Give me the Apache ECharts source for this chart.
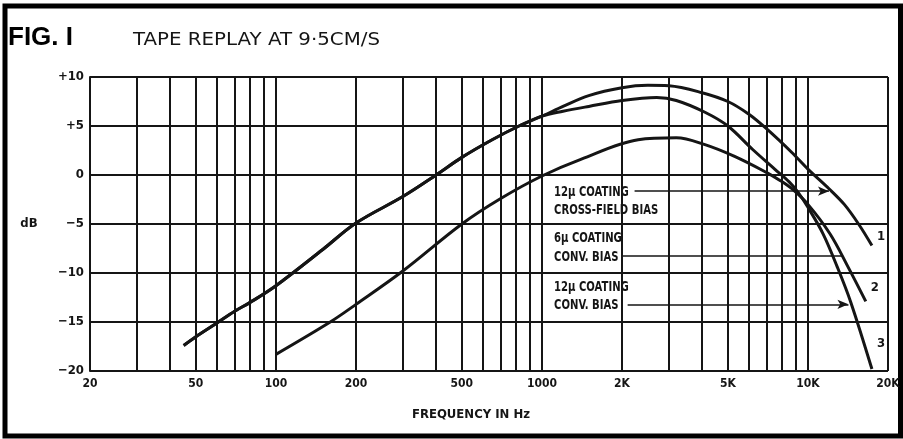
<!DOCTYPE html>
<html>
<head>
<meta charset="utf-8">
<script src="https://cdn.jsdelivr.net/npm/echarts@6/dist/echarts.min.js"></script>
<style>
html, body { margin: 0; padding: 0; background: #fff; }
#chart { width: 903px; height: 439px; }
</style>
</head>
<body>
<div id="chart"></div>
<script>
// log grid lines and tick labels of the frequency axis
var xGridValues = [20, 30, 40, 50, 60, 70, 80, 90, 100, 200, 300, 400, 500, 600, 700, 800, 900,
    1000, 2000, 3000, 4000, 5000, 6000, 7000, 8000, 9000, 10000, 20000];
var xLabelValues = [20, 50, 100, 200, 500, 1000, 2000, 5000, 10000, 20000];
var xLabelTexts = ['20', '50', '100', '200', '500', '1000', '2K', '5K', '10K', '20K'];

// [Hz, dB]
// curves 1 and 3 (both 12u coating) run together at low frequencies
var coating12Low = [[45, -17.4], [50, -16.5], [60, -15.1], [70, -13.9], [80, -13.0], [100, -11.3],
    [150, -7.6], [200, -4.9], [300, -2.2], [400, 0], [500, 1.8], [650, 3.6], [820, 5.0], [1000, 6.0]];
var crossField12High = [[1200, 7.0], [1500, 8.1], [2000, 8.9], [2500, 9.15], [3000, 9.1], [4000, 8.4],
    [5000, 7.5], [6000, 6.2], [7000, 4.7], [8700, 2.3], [10000, 0.6], [12000, -1.4], [13700, -3.0],
    [15500, -5.0], [17400, -7.2]];
var conv12High = [[1200, 6.5], [1500, 7.0], [2000, 7.6], [2700, 7.9], [3200, 7.6], [4100, 6.4],
    [5000, 5.0], [6200, 2.6], [7500, 0.6], [8500, -0.7], [9200, -1.8], [10000, -3.3], [11400, -6.0],
    [12900, -9.4], [14500, -13.0], [17400, -19.8]];
var conv6 = [[100, -18.3], [160, -15.0], [200, -13.2], [300, -9.8], [500, -5.0],
    [700, -2.4], [1000, -0.1], [1400, 1.6], [2300, 3.6], [3200, 3.8], [4100, 3.1], [5300, 1.9],
    [7000, 0.25], [7800, -0.5], [8700, -1.4], [10000, -3.0], [12100, -6.0], [14100, -9.3], [16500, -12.9]];

var curve1 = coating12Low.concat(crossField12High);
var curve2 = conv6;
var curve3 = coating12Low.concat(conv12High);

var ink = '#151515';
var narrow = '"DejaVu Sans Condensed", "DejaVu Sans", sans-serif';

var chart = echarts.init(document.getElementById('chart'));

function curveSeries(name, data, num, offset, pointer) {
    return {
        name: name,
        type: 'line',
        data: data,
        smooth: 0.35,
        showSymbol: false,
        lineStyle: { color: ink, width: 3 },
        endLabel: {
            show: true, formatter: num, offset: offset,
            color: ink, fontFamily: narrow, fontWeight: 'bold', fontSize: 13
        },
        markLine: {
            silent: true,
            symbol: pointer.arrow ? ['none', 'arrow'] : ['none', 'none'],
            symbolSize: [7, 11],
            label: { show: false },
            lineStyle: { color: ink, width: 1.5, type: 'solid' },
            data: [[{ coord: [pointer.from, pointer.db] }, { coord: [pointer.to, pointer.db] }]]
        }
    };
}

// condensed note text, squeezed a little to match the lettering
function note(text, x, y) {
    return {
        type: 'text', x: x, y: y, scaleX: 0.8,
        style: { text: text, fill: ink, font: 'bold 14px ' + narrow, verticalAlign: 'middle' }
    };
}

var option = {
    animation: false,
    grid: { left: 90, right: 15, top: 77, bottom: 68 },
    xAxis: {
        type: 'log',
        logBase: 10,
        min: 20,
        max: 20000,
        axisLine: { show: true, lineStyle: { color: ink, width: 2 } },
        axisTick: { show: false, customValues: xGridValues },
        splitLine: { show: true, lineStyle: { color: ink, width: 2 } },
        axisLabel: {
            customValues: xLabelValues,
            margin: 7,
            color: ink,
            fontFamily: narrow,
            fontWeight: 'bold',
            fontSize: 12,
            formatter: function (v) {
                return xLabelTexts[xLabelValues.indexOf(v)];
            }
        }
    },
    yAxis: {
        type: 'value',
        min: -20,
        max: 10,
        interval: 5,
        axisLine: { show: true, lineStyle: { color: ink, width: 2 } },
        axisTick: { show: false },
        splitLine: { show: true, lineStyle: { color: ink, width: 2 } },
        axisLabel: {
            margin: 6,
            color: ink,
            fontFamily: narrow,
            fontWeight: 'bold',
            fontSize: 13,
            formatter: function (v) {
                if (v > 0) return '+' + v;
                if (v < 0) return '\u2212' + (-v);
                return '0';
            }
        }
    },
    series: [
        curveSeries('12\u03bc coating cross-field bias', curve1, '1', [-3, -9],
            { from: 2230, to: 12000, db: -1.65, arrow: true }),
        curveSeries('6\u03bc coating conv. bias', curve2, '2', [-3, -14],
            { from: 2000, to: 13500, db: -8.27, arrow: false }),
        curveSeries('12\u03bc coating conv. bias', curve3, '3', [-3, -25],
            { from: 2100, to: 14200, db: -13.2, arrow: true })
    ],
    graphic: [
        {
            type: 'rect', silent: true,
            shape: { x: 5, y: 6, width: 895.5, height: 430 },
            style: { fill: 'none', stroke: '#000', lineWidth: 5 }
        },
        {
            type: 'text', x: 8, y: 38,
            style: { text: 'FIG. I', fill: '#000', font: 'bold 26px "Liberation Sans"', verticalAlign: 'middle' }
        },
        {
            type: 'text', x: 133, y: 40, scaleX: 1.1,
            style: { text: 'TAPE REPLAY AT 9\u00b75CM/S', fill: ink, font: '18px "DejaVu Sans"', verticalAlign: 'middle' }
        },
        {
            type: 'text', x: 29, y: 224,
            style: { text: 'dB', fill: ink, font: 'bold 13px ' + narrow, align: 'center', verticalAlign: 'middle' }
        },
        {
            type: 'text', x: 471, y: 415,
            style: { text: 'FREQUENCY IN Hz', fill: ink, font: 'bold 13px ' + narrow, align: 'center', verticalAlign: 'middle' }
        },
        note('12\u03bc COATING', 554, 192),
        note('CROSS-FIELD BIAS', 554, 210),
        note('6\u03bc COATING', 554, 238),
        note('CONV. BIAS', 554, 257),
        note('12\u03bc COATING', 554, 287),
        note('CONV. BIAS', 554, 305)
    ]
};

chart.setOption(option);
</script>
</body>
</html>
